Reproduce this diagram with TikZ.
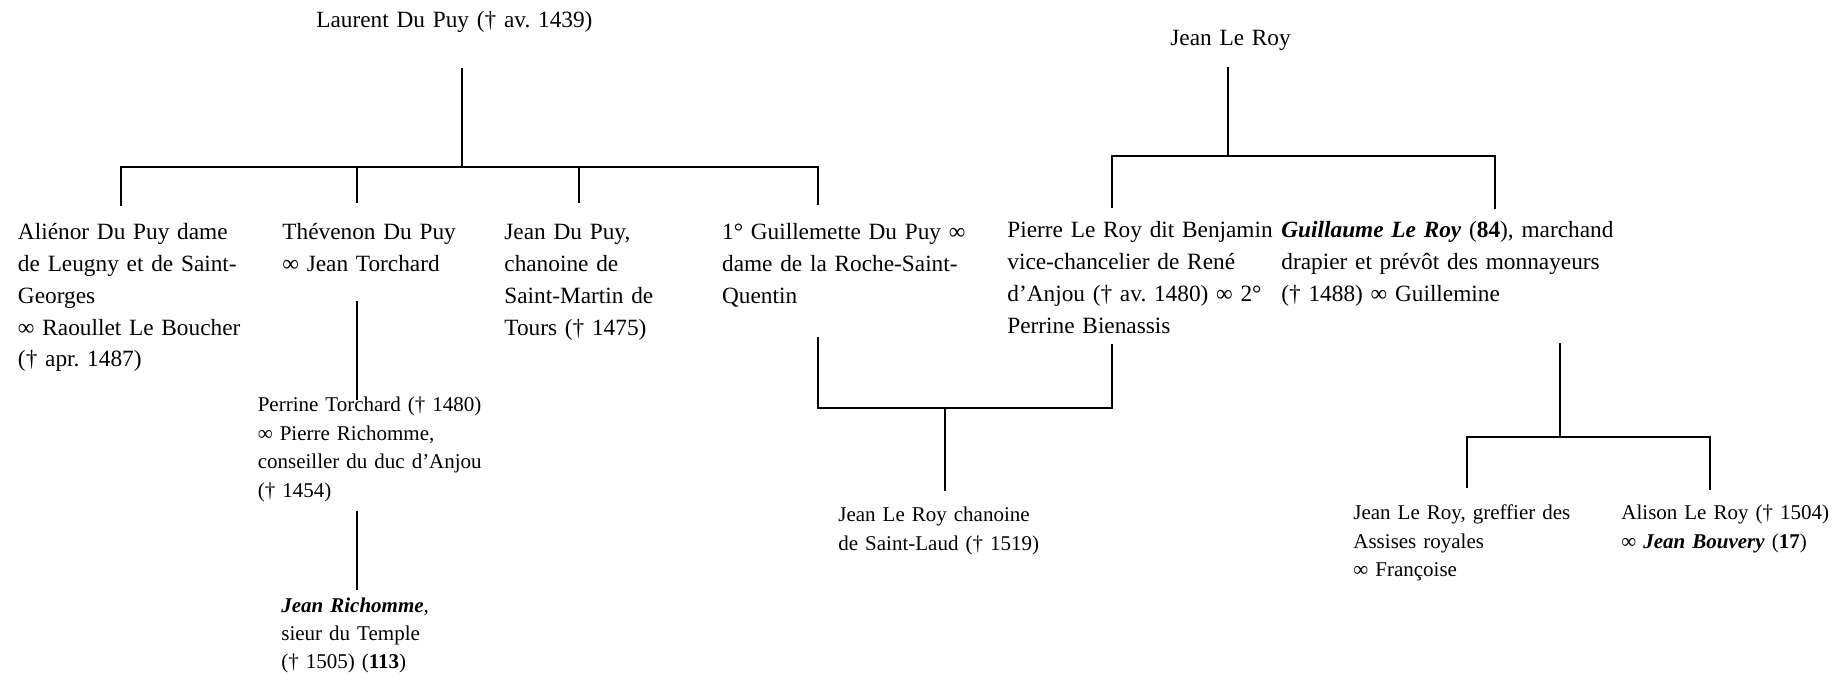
\documentclass[tikz,border=0pt]{standalone}
\usepackage{fontspec}
\setmainfont{Liberation Serif}
\frenchspacing
\begin{document}
\begin{tikzpicture}[x=0.5pt,y=-0.5pt,
    person/.style={anchor=base west, inner sep=0pt, align=left, text width=230pt,
      font=\fontsize{11.65}{15.85}\selectfont},
    small person/.style={person, font=\fontsize{10.5}{14.2}\selectfont},
    link/.style={black, line width=1pt}]
  \useasboundingbox (0,0) rectangle (1843,678);

  % Du Puy side
  \node[person] (laurent) at (316,28) {Laurent Du Puy († av. 1439)};
  \node[person] (alienor) at (17.6,240) {Aliénor Du Puy dame\\de Leugny et de Saint-\\Georges\\∞ Raoullet Le Boucher\\(† apr. 1487)};
  \node[person] (thevenon) at (282,240) {Thévenon Du Puy\\∞ Jean Torchard};
  \node[person] (jeandupuy) at (504,240) {Jean Du Puy,\\chanoine de\\Saint-Martin de\\Tours († 1475)};
  \node[person] (guillemette) at (721.7,240) {1° Guillemette Du Puy ∞\\dame de la Roche-Saint-\\Quentin};
  \node[small person] (perrine) at (257.4,412) {Perrine Torchard († 1480)\\∞ Pierre Richomme,\\conseiller du duc d’Anjou\\(† 1454)};
  \node[small person] (richomme) at (281,612) {\textbf{\textit{Jean Richomme}},\\sieur du Temple\\(† 1505) (\textbf{113})};

  % Le Roy side
  \node[person] (jeanleroy) at (1170,46) {Jean Le Roy};
  \node[person] (pierre) at (1007,238) {Pierre Le Roy dit Benjamin\\vice-chancelier de René\\d’Anjou († av. 1480) ∞ 2°\\Perrine Bienassis};
  \node[person] (guillaume) at (1281,238) {\textbf{\textit{Guillaume Le Roy}} (\textbf{84}), marchand\\drapier et prévôt des monnayeurs\\(† 1488) ∞ Guillemine};
  \node[small person] (chanoine) at (838,522) {Jean Le Roy chanoine\\de Saint-Laud († 1519)};
  \node[small person] (greffier) at (1353,520) {Jean Le Roy, greffier des\\Assises royales\\∞ Françoise};
  \node[small person] (alison) at (1621,520) {Alison Le Roy († 1504)\\∞ \textbf{\textit{Jean Bouvery}} (\textbf{17})};

  % line ends
  \coordinate (laurent down) at (462,68);
  \coordinate (dupuy bar) at (462,167.5);
  \coordinate (alienor up) at (121,206);
  \coordinate (thevenon up) at (357,203);
  \coordinate (jeandupuy up) at (579,203);
  \coordinate (guillemette up) at (818,205);
  \coordinate (thevenon down) at (357,301);
  \coordinate (perrine up) at (357,400);
  \coordinate (perrine down) at (357,511);
  \coordinate (richomme up) at (357,590);
  \coordinate (guillemette down) at (818,337);
  \coordinate (pierre down) at (1112,344);
  \coordinate (union bar) at (945,408);
  \coordinate (chanoine up) at (945,491);
  \coordinate (jeanleroy down) at (1228,67);
  \coordinate (leroy bar) at (1228,156);
  \coordinate (pierre up) at (1112,208);
  \coordinate (guillaume up) at (1495,209);
  \coordinate (guillaume down) at (1560,343);
  \coordinate (guillaume bar) at (1560,437);
  \coordinate (greffier up) at (1467,488);
  \coordinate (alison up) at (1710,490);

  % Draw the tree lines
  \draw[link] (laurent down) -- (dupuy bar);
  \draw[link] (alienor up) -- (alienor up |- dupuy bar) -- (guillemette up |- dupuy bar) -- (guillemette up);
  \draw[link] (thevenon up) -- (thevenon up |- dupuy bar);
  \draw[link] (jeandupuy up) -- (jeandupuy up |- dupuy bar);
  \draw[link] (thevenon down) -- (perrine up);
  \draw[link] (perrine down) -- (richomme up);

  \draw[link] (guillemette down) -- (guillemette down |- union bar) -- (pierre down |- union bar) -- (pierre down);
  \draw[link] (union bar) -- (chanoine up);

  \draw[link] (jeanleroy down) -- (leroy bar);
  \draw[link] (pierre up) -- (pierre up |- leroy bar) -- (guillaume up |- leroy bar) -- (guillaume up);

  \draw[link] (guillaume down) -- (guillaume bar);
  \draw[link] (greffier up) -- (greffier up |- guillaume bar) -- (alison up |- guillaume bar) -- (alison up);
\end{tikzpicture}
\end{document}
